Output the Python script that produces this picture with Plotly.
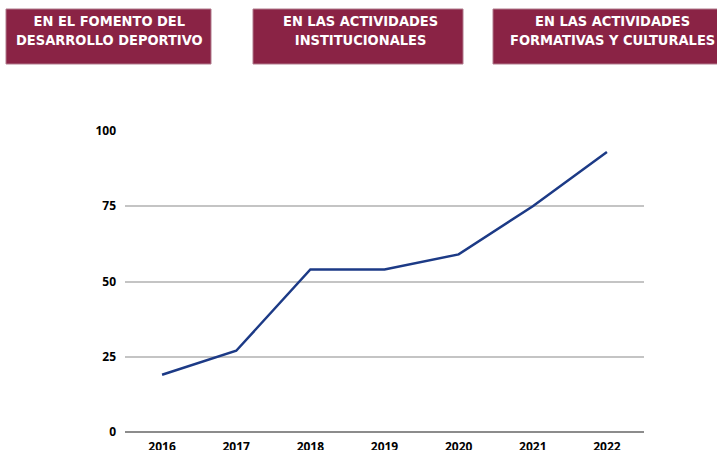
import plotly.graph_objects as go

years = ["2016", "2017", "2018", "2019", "2020", "2021", "2022"]
values = [19, 27, 54, 54, 59, 75, 93]
y_ticks = [0, 25, 50, 75, 100]
banners = [
    "EN EL FOMENTO DEL<br>DESARROLLO DEPORTIVO",
    "EN LAS ACTIVIDADES<br>INSTITUCIONALES",
    "EN LAS ACTIVIDADES<br>FORMATIVAS Y CULTURALES",
]

W, H = 717, 450
L, R, T, B = 125, 73, 131, 18
PW, PH = W - L - R, H - T - B


def px(x):
    return (x - L) / PW


def py(y):
    return (H - B - y) / PH


fig = go.Figure()
fig.add_trace(go.Scatter(
    x=years, y=values, mode="lines",
    line=dict(color="#1c3a86", width=2.5),
    hoverinfo="skip", showlegend=False,
))

# banner boxes (pixel extents) and text centres
boxes = [(6, 211, 109), (253, 463, 360), (493, 740, 612)]
shapes = []
annotations = []
for (x0, x1, xc), txt in zip(boxes, banners):
    shapes.append(dict(type="rect", xref="paper", yref="paper",
                       x0=px(x0), x1=px(x1), y0=py(64), y1=py(9),
                       fillcolor="#8a2345", line=dict(width=1, color="#b07a8c"),
                       layer="above"))
    annotations.append(dict(xref="paper", yref="paper",
                            x=px(xc), y=py(30.5), text="<b>" + txt + "</b>",
                            showarrow=False, xanchor="center", yanchor="middle",
                            font=dict(family="DejaVu Sans Condensed", size=14.5, color="white"),
                            align="center"))

tickfont = dict(family="Open Sans", size=12, color="black", weight="bold")
fig.update_layout(
    width=W, height=H,
    margin=dict(l=L, r=R, t=T, b=B),
    paper_bgcolor="white", plot_bgcolor="white",
    shapes=shapes, annotations=annotations,
    xaxis=dict(range=[-0.5, 6.5], showgrid=False, zeroline=False, showline=False,
               ticks="", automargin=False, ticklabelstandoff=6,
               tickfont=tickfont, fixedrange=True),
    yaxis=dict(range=[0, 100], tickvals=y_ticks, showgrid=True, gridcolor="#c4c4c4",
               gridwidth=2, zeroline=True, zerolinecolor="#8c8c8c", zerolinewidth=2,
               showline=False, ticks="", ticklabelstandoff=8, automargin=False,
               tickfont=tickfont, fixedrange=True),
)

fig.write_html("out.html", config={"displayModeBar": False},
               post_script="document.body.style.margin='0';")
